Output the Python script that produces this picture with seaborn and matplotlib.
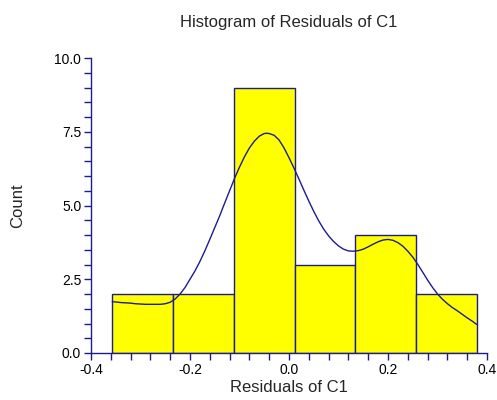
import matplotlib
matplotlib.use('Agg')
import matplotlib.pyplot as plt
from matplotlib.ticker import MultipleLocator, FormatStrFormatter
import seaborn as sns

# Histogram bins (edges) and counts
bin_edges = [-0.3576, -0.2347, -0.1118, 0.0111, 0.1340, 0.2569, 0.3798]
counts = [2, 2, 9, 3, 4, 2]

# Density curve (scaled to counts)
curve_x = [-0.357, -0.35, -0.34, -0.33, -0.32, -0.31, -0.30, -0.29, -0.28,
           -0.27, -0.26, -0.25, -0.24, -0.23, -0.22, -0.21, -0.20, -0.19,
           -0.18, -0.17, -0.16, -0.15, -0.14, -0.13, -0.12, -0.11, -0.10,
           -0.09, -0.08, -0.07, -0.06, -0.05, -0.045, -0.04, -0.03, -0.02,
           -0.01, 0.00, 0.01, 0.02, 0.03, 0.04, 0.05, 0.06, 0.07, 0.08,
           0.09, 0.10, 0.11, 0.12, 0.13, 0.14, 0.15, 0.16, 0.17, 0.18,
           0.19, 0.20, 0.21, 0.22, 0.23, 0.24, 0.25, 0.26, 0.27, 0.28,
           0.29, 0.30, 0.31, 0.32, 0.33, 0.34, 0.35, 0.36, 0.37, 0.379]
curve_y = [1.74, 1.73, 1.71, 1.70, 1.69, 1.67, 1.66, 1.65, 1.65,
           1.65, 1.65, 1.67, 1.72, 1.83, 2.00, 2.22, 2.50, 2.78,
           3.10, 3.46, 3.85, 4.25, 4.65, 5.08, 5.50, 5.92, 6.30,
           6.65, 6.95, 7.18, 7.35, 7.44, 7.45, 7.44, 7.38, 7.22,
           6.95, 6.62, 6.27, 5.90, 5.52, 5.15, 4.80, 4.48, 4.20, 3.97,
           3.78, 3.63, 3.52, 3.46, 3.45, 3.47, 3.52, 3.60, 3.69, 3.77,
           3.83, 3.85, 3.82, 3.74, 3.62, 3.45, 3.25, 3.01, 2.74, 2.47,
           2.22, 2.00, 1.82, 1.67, 1.54, 1.43, 1.31, 1.19, 1.08, 0.97]

title = "Histogram of Residuals of C1"
x_label = "Residuals of C1"
y_label = "Count"

navy = "#1c1c8c"

sns.set_style("white")
plt.rcParams['font.family'] = ['Liberation Sans', 'DejaVu Sans']

fig = plt.figure(figsize=(4.97, 4.0), dpi=100)
ax = fig.add_axes([0.183, 0.1175, 0.797, 0.7375])

centers = [(a + b) / 2 for a, b in zip(bin_edges[:-1], bin_edges[1:])]
sns.histplot(x=centers, weights=counts, bins=bin_edges, ax=ax,
             color="#ffff00", alpha=1.0, edgecolor=navy, linewidth=1.0)
sns.lineplot(x=curve_x, y=curve_y, ax=ax, color=navy, linewidth=1.0)

ax.set_xlim(-0.4, 0.4)
ax.set_ylim(0, 10)
ax.xaxis.set_major_locator(MultipleLocator(0.2))
ax.xaxis.set_minor_locator(MultipleLocator(0.04))
ax.yaxis.set_major_locator(MultipleLocator(2.5))
ax.yaxis.set_minor_locator(MultipleLocator(0.5))
ax.xaxis.set_major_formatter(FormatStrFormatter('%.1f'))
ax.yaxis.set_major_formatter(FormatStrFormatter('%.1f'))

for side in ['top', 'right']:
    ax.spines[side].set_visible(False)
for side in ['left', 'bottom']:
    ax.spines[side].set_color(navy)
    ax.spines[side].set_linewidth(1.0)

ax.tick_params(which='both', direction='out', color=navy, width=1.0,
               labelsize=10, labelcolor='black', left=True, bottom=True)
ax.tick_params(which='major', length=5, pad=2)
ax.tick_params(which='minor', length=5)

ax.set_title(title, fontsize=12, pad=22)
ax.set_xlabel(x_label, fontsize=12, labelpad=2)
ax.set_ylabel(y_label, fontsize=12, labelpad=21)

plt.savefig('out.png', dpi=100)
plt.close()
